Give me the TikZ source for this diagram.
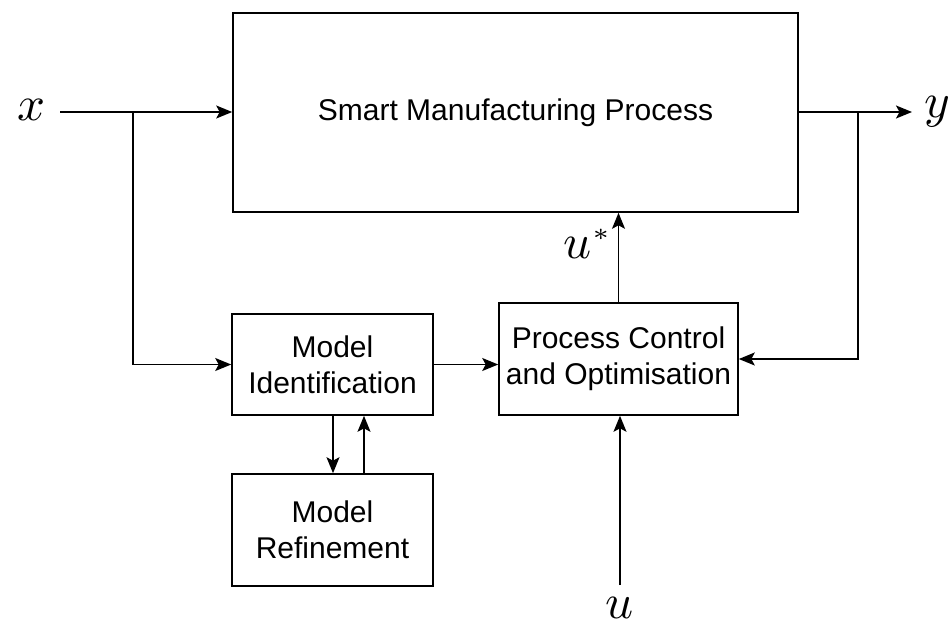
\documentclass[tikz,border=0pt]{standalone}
\usepackage{fontspec}
\setmainfont{Liberation Sans}
\usetikzlibrary{arrows.meta}
\begin{document}
\begin{tikzpicture}[x=1pt,y=-1pt,
  blk/.style={draw,line width=1.6pt,inner sep=0pt,align=center,font=\fontsize{30}{36}\selectfont},
  conn/.style={line width=1.6pt,-{Stealth[length=16pt,width=13pt,inset=3.5pt]}},
  mlab/.style={scale=4.9,inner sep=0pt}]
\useasboundingbox (0,0) rectangle (950,627);
\node[blk,minimum width=565pt,minimum height=199pt] (smp) at (515.5,112.5) {Smart Manufacturing Process};
\node[blk,minimum width=201pt,minimum height=101pt] (mi) at (332.5,364.5) {Model\\Identification};
\node[blk,minimum width=239pt,minimum height=112pt] (pc) at (618.5,359) {Process Control\\and Optimisation};
\node[blk,minimum width=201pt,minimum height=112pt] (mr) at (332.5,530) {Model\\Refinement};
\node[mlab] (xl) at (32,110) {$x$};
\node[mlab] (yl) at (937,112) {$y$};
\node[mlab] (ul) at (620,608) {$u$};
\node[mlab] (usl) at (588,244) {$u^{\scriptscriptstyle *}$};
\coordinate (xs) at (60,112);
\coordinate (xb) at (133,112);
\coordinate (ye) at (912,112);
\coordinate (yb) at (858,112);
\coordinate (us) at (620,585);
\coordinate (dn) at (333,0);
\coordinate (up) at (364,0);
\draw[conn] (xs) -- (smp.west |- xs);
\draw[conn] (xb) |- (mi.west);
\draw[conn] (smp.east |- ye) -- (ye);
\draw[conn] (yb) |- (pc.east);
\draw[conn] (mi.east) -- (pc.west |- mi.east);
\draw[conn] (pc.north) -- (smp.south -| pc.north);
\draw[conn] (us) -- (pc.south -| us);
\draw[conn] (mi.south -| dn) -- (mr.north -| dn);
\draw[conn] (mr.north -| up) -- (mi.south -| up);
\end{tikzpicture}
\end{document}
